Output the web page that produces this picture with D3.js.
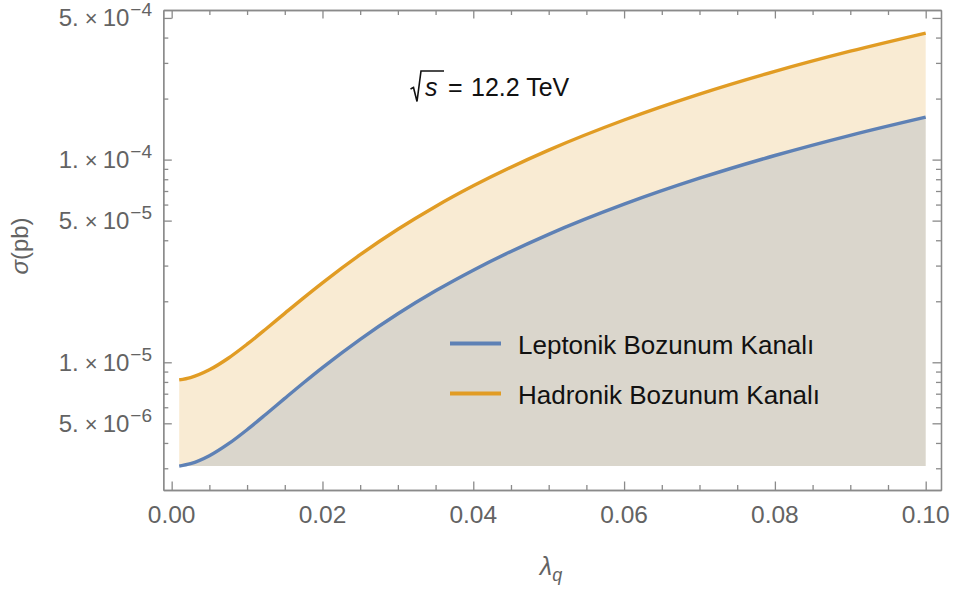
<!DOCTYPE html>
<html><head><meta charset="utf-8">
<script src="https://cdn.jsdelivr.net/npm/d3@7"></script>
<style>
html,body{margin:0;padding:0;background:#fff;}
svg{display:block;font-family:"Liberation Sans",Arial,sans-serif;}
</style></head>
<body>
<svg id="chart" width="955" height="594"></svg>
<script>
// ---- data ----
const lambdaQ   = [0.001, 0.0025, 0.005, 0.0075, 0.01, 0.0125, 0.015, 0.0175, 0.02, 0.025, 0.03, 0.035, 0.04, 0.05, 0.06, 0.07, 0.08, 0.09, 0.1];
const leptonik  = [3.076e-6, 3.159e-6, 3.457e-6, 3.954e-6, 4.649e-6, 5.543e-6, 6.635e-6, 7.926e-6, 9.416e-6, 1.299e-5, 1.736e-5, 2.253e-5, 2.848e-5, 4.279e-5, 6.026e-5, 8.092e-5, 1.0476e-4, 1.3177e-4, 1.6196e-4];
const hadronik  = [8.19e-6, 8.408e-6, 9.18e-6, 1.047e-5, 1.228e-5, 1.460e-5, 1.744e-5, 2.080e-5, 2.467e-5, 3.396e-5, 4.532e-5, 5.874e-5, 7.423e-5, 1.114e-4, 1.568e-4, 2.105e-4, 2.725e-4, 3.427e-4, 4.2115e-4];
const seriesNames = ["Leptonik Bozunum Kanalı", "Hadronik Bozunum Kanalı"];
const xMajorTicks = [0, 0.02, 0.04, 0.06, 0.08, 0.10];
const xMinorTicks = [0.005,0.01,0.015,0.025,0.03,0.035,0.045,0.05,0.055,0.065,0.07,0.075,0.085,0.09,0.095];
const yMajorTicks = [5e-6, 1e-5, 5e-5, 1e-4, 5e-4];
const yMajorMant  = ["5.", "1.", "5.", "1.", "5."];
const yMajorExp   = ["−6", "−5", "−5", "−4", "−4"];
const yMinorTicks = [3e-6,4e-6,6e-6,7e-6,8e-6,9e-6,2e-5,3e-5,4e-5,6e-5,7e-5,8e-5,9e-5,2e-4,3e-4,4e-4];

// ---- layout ----
const L = 163.3, R = 941, T = 10, B = 490;
const blueC = "#5E81B5", orangeC = "#E19C24";
const frameC = "#8a8a8a", labelC = "#636363";

const svg = d3.select("#chart");
const x = d3.scaleLinear().domain([-0.00111, 0.10203]).range([L, R]);
const y = d3.scaleLog().domain([2.344e-6, 5.471e-4]).range([B, T]);

const lep = lambdaQ.map((v,i)=>({x:v, y:leptonik[i]}));
const had = lambdaQ.map((v,i)=>({x:v, y:hadronik[i]}));
const base = d3.min(leptonik.concat(hadronik));

const curve = d3.curveMonotoneX;
const area = d3.area().x(d=>x(d.x)).y0(y(base)).y1(d=>y(d.y)).curve(curve);
const line = d3.line().x(d=>x(d.x)).y(d=>y(d.y)).curve(curve);

svg.append("path").datum(had).attr("d", area).attr("fill", orangeC).attr("fill-opacity", 0.2);
svg.append("path").datum(lep).attr("d", area).attr("fill", blueC).attr("fill-opacity", 0.2);
svg.append("path").datum(lep).attr("d", line).attr("fill","none").attr("stroke", blueC).attr("stroke-width", 3.4);
svg.append("path").datum(had).attr("d", line).attr("fill","none").attr("stroke", orangeC).attr("stroke-width", 3.4);

// ---- frame & ticks ----
function styleAxis(g){
  g.select(".domain").attr("stroke", frameC).attr("stroke-width", 1.3);
  g.selectAll(".tick line").attr("stroke", frameC).attr("stroke-width", 1.3);
  g.selectAll(".tick text").remove();
}
[[d3.axisBottom, B], [d3.axisTop, T]].forEach(([fn, pos])=>{
  svg.append("g").attr("transform",`translate(0,${pos})`)
    .call(fn(x).tickValues(xMajorTicks).tickSize(-8.5).tickSizeOuter(0)).call(styleAxis);
  svg.append("g").attr("transform",`translate(0,${pos})`)
    .call(fn(x).tickValues(xMinorTicks).tickSize(-5).tickSizeOuter(0)).call(styleAxis);
});
[[d3.axisLeft, L],[d3.axisRight, R]].forEach(([fn,pos])=>{
  svg.append("g").attr("transform",`translate(${pos},0)`)
    .call(fn(y).tickValues(yMajorTicks).tickSize(-8.5).tickSizeOuter(0)).call(styleAxis);
  svg.append("g").attr("transform",`translate(${pos},0)`)
    .call(fn(y).tickValues(yMinorTicks).tickSize(-5).tickSizeOuter(0)).call(styleAxis);
});

// ---- tick labels ----
svg.append("g").selectAll("text").data(xMajorTicks).join("text")
  .attr("x", d=>x(d)).attr("y", 523).attr("text-anchor","middle")
  .attr("font-size", 24.5).attr("fill", labelC)
  .text(d=>d3.format(".2f")(d));

const yl = svg.append("g").selectAll("text").data(yMajorTicks).join("text")
  .attr("x", 152).attr("y", d=>y(d)+8.5).attr("text-anchor","end")
  .attr("font-size", 24).attr("fill", labelC);
yl.append("tspan").text((d,i)=>yMajorMant[i]);
yl.append("tspan").attr("font-size", 22).attr("dx", 6).text("×");
yl.append("tspan").attr("dx", 5).text("10");
yl.append("tspan").attr("font-size", 19).attr("dy", -10).attr("dx", 1).text((d,i)=>yMajorExp[i]);

// ---- axis titles ----
const yt = svg.append("text").attr("transform","translate(28,246) rotate(-90)")
  .attr("text-anchor","middle").attr("font-size", 24).attr("fill", labelC);
yt.append("tspan").attr("font-style","italic").text("σ");
yt.append("tspan").text("(pb)");

const xt = svg.append("text").attr("x", 551).attr("y", 575)
  .attr("text-anchor","middle").attr("font-size", 25).attr("fill", labelC);
xt.append("tspan").attr("font-style","italic").text("λ");
xt.append("tspan").attr("font-style","italic").attr("font-size", 18).attr("dy", 6).text("q");

// ---- annotation ----
const ink = "#111";
svg.append("path").attr("d", "M410.5,89 L413.5,87.5 L417,101.5 L421,71 L444,71")
  .attr("fill","none").attr("stroke", ink).attr("stroke-width", 1.6).attr("stroke-linejoin","miter");
svg.append("text").attr("x", 425).attr("y", 96).attr("font-size", 25).attr("font-style","italic")
  .attr("fill", ink).text("s");
svg.append("text").attr("x", 448).attr("y", 96).attr("font-size", 25).attr("fill", ink).text("=");
svg.append("text").attr("x", 471).attr("y", 96).attr("font-size", 25).attr("fill", ink).text("12.2 TeV");

// ---- legend ----
const lg = svg.append("g");
[blueC, orangeC].forEach((c,i)=>{
  const yy = 343.5 + i*50;
  lg.append("line").attr("x1", 450).attr("x2", 501).attr("y1", yy).attr("y2", yy)
    .attr("stroke", c).attr("stroke-width", 4);
  lg.append("text").attr("x", 518).attr("y", yy + 10.5).attr("font-size", 26)
    .attr("fill", ink).text(seriesNames[i]);
});
</script>
</body></html>
